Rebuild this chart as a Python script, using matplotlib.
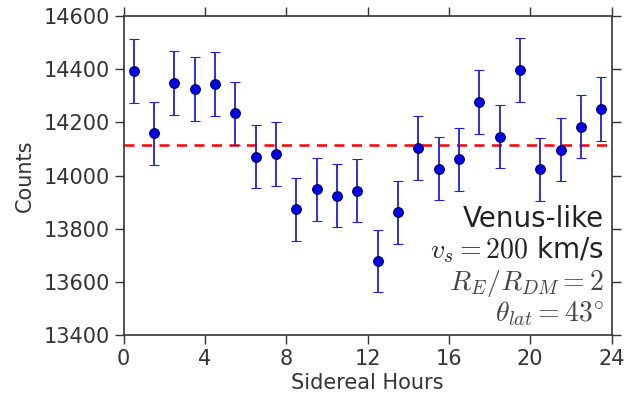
import matplotlib
matplotlib.use("Agg")
import matplotlib.pyplot as plt

hours = [0.5, 1.5, 2.5, 3.5, 4.5, 5.5, 6.5, 7.5, 8.5, 9.5, 10.5, 11.5,
         12.5, 13.5, 14.5, 15.5, 16.5, 17.5, 18.5, 19.5, 20.5, 21.5, 22.5, 23.5]
counts = [14393, 14159, 14348, 14326, 14343, 14234, 14071, 14081, 13873, 13948, 13924, 13943,
          13678, 13861, 14103, 14026, 14061, 14276, 14146, 14397, 14023, 14097, 14184, 14250]
errors = [120, 119, 120, 120, 120, 119, 119, 119, 118, 118, 118, 118,
          117, 118, 119, 118, 119, 119, 119, 120, 118, 119, 119, 119]
mean_level = 14113

xticks = [0, 4, 8, 12, 16, 20, 24]
yticks = [13400, 13600, 13800, 14000, 14200, 14400, 14600]

plt.rcParams['mathtext.fontset'] = 'cm'
plt.rcParams['font.family'] = ['DejaVu Sans']

fig = plt.figure(figsize=(6.24, 4.0), dpi=100)
ax = fig.add_axes([0.198, 0.1625, 0.782, 0.7975])

ax.axhline(mean_level, color='red', linestyle=(0, (4, 3)), linewidth=1.8, zorder=1)
ax.errorbar(hours, counts, yerr=errors, fmt='o', color='#1010dd', ecolor='#2020dd',
            elinewidth=1.3, capsize=3.5, capthick=1.3, markersize=7,
            markerfacecolor='#0000ee', markeredgecolor='#000055', markeredgewidth=0.8, zorder=3)

ax.set_xlim(0, 24)
ax.set_ylim(13400, 14600)
ax.set_xticks(xticks)
ax.set_yticks(yticks)
ax.tick_params(direction='out', length=6.5, width=1, colors='#333333', labelsize=15,
               top=True, right=True, labeltop=False, labelright=False)
for s in ax.spines.values():
    s.set_color('#333333')
    s.set_linewidth(1.2)

ax.set_xlabel('Sidereal Hours', fontsize=15, color='#333333', labelpad=3)
ax.set_ylabel('Counts', fontsize=15, color='#333333', labelpad=6)

tx = 0.985
ax.text(tx, 0.339, 'Venus-like', transform=ax.transAxes, ha='right', va='baseline',
        fontsize=20, color='#222222')
ax.text(tx, 0.241, r'$v_s = 200$ km/s', transform=ax.transAxes, ha='right', va='baseline',
        fontsize=20, color='#222222')
ax.text(tx, 0.141, r'$R_E/R_{DM} = 2$', transform=ax.transAxes, ha='right', va='baseline',
        fontsize=20, color='#444444')
ax.text(tx, 0.044, r'$\theta_{lat} = 43^{\circ}$', transform=ax.transAxes, ha='right', va='baseline',
        fontsize=20, color='#444444')

fig.savefig('out.png', dpi=100)
